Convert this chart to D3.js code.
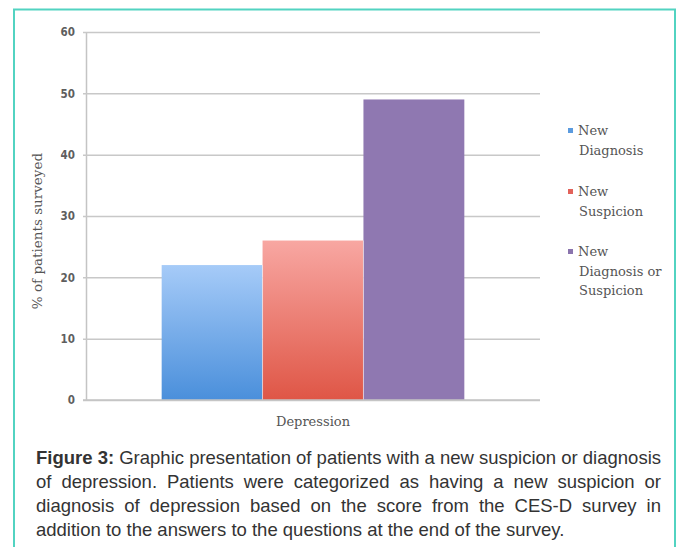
<!DOCTYPE html>
<html>
<head>
<meta charset="utf-8">
<script src="https://cdn.jsdelivr.net/npm/d3@7"></script>
<style>
  html, body { margin: 0; padding: 0; background: #fff; }
  svg { display: block; }
</style>
</head>
<body>
<svg id="chart" width="681" height="547"></svg>
<script>
// Share of surveyed patients with a new depression finding
const categories = ["Depression"];
const seriesNames = ["New Diagnosis", "New Suspicion", "New Diagnosis or Suspicion"];
const seriesValues = [22, 26, 49];
const yTicks = [0, 10, 20, 30, 40, 50, 60];
const legendLines = [["New", "Diagnosis"], ["New", "Suspicion"], ["New", "Diagnosis or", "Suspicion"]];
const captionLines = [
  [{ t: "Figure 3:", b: true }, { t: " Graphic presentation of patients with a new suspicion or diagnosis" }],
  [{ t: "of depression. Patients were categorized as having a new suspicion or" }],
  [{ t: "diagnosis of depression based on the score from the CES-D survey in" }],
  [{ t: "addition to the answers to the questions at the end of the survey." }]
];

const svg = d3.select("#chart");
const serif = "'DejaVu Serif', 'Liberation Serif', serif";

// Frame around the figure
svg.append("rect")
  .attr("x", 14).attr("y", 9.5).attr("width", 661).attr("height", 560)
  .attr("fill", "none").attr("stroke", "#52d3c1").attr("stroke-width", 2);

const plot = { left: 86, right: 540, top: 32, bottom: 400 };

const y = d3.scaleLinear().domain([0, 60]).range([plot.bottom, plot.top]);
const x0 = d3.scaleBand().domain(categories).range([plot.left, plot.right]).paddingInner(0).paddingOuter(0.25);
const x1 = d3.scaleBand().domain(seriesNames).range([0, x0.bandwidth()]).padding(0);

// Gradients for the first two bars
const defs = svg.append("defs");
const grads = [
  { id: "gBlue", top: "#a6cbf8", bottom: "#4a8fdb" },
  { id: "gRed", top: "#f8a7a2", bottom: "#df5646" }
];
grads.forEach(g => {
  const lg = defs.append("linearGradient").attr("id", g.id).attr("x1", 0).attr("y1", 0).attr("x2", 0).attr("y2", 1);
  lg.append("stop").attr("offset", "0%").attr("stop-color", g.top);
  lg.append("stop").attr("offset", "100%").attr("stop-color", g.bottom);
});
const fills = ["url(#gBlue)", "url(#gRed)", "#8f78b1"];
const swatch = ["#5b9bdf", "#e2625a", "#8a74ad"];

// Horizontal gridlines with short ticks
const axis = d3.axisLeft(y).tickValues(yTicks).tickSize(-(plot.right - plot.left)).tickPadding(10).tickSizeOuter(0);
const gAxis = svg.append("g").attr("transform", `translate(${plot.left},0)`).call(axis);
gAxis.select(".domain").attr("stroke", "#c4c4c4").attr("stroke-width", 1.5);
gAxis.selectAll(".tick line").attr("stroke", "#c8c8c8").attr("stroke-width", 1.5).attr("x1", -3);
gAxis.selectAll(".tick text")
  .attr("fill", "#5e5e5e")
  .attr("font-family", "'DejaVu Sans Condensed', 'Liberation Sans Narrow', sans-serif")
  .attr("font-weight", "bold")
  .attr("font-size", 11.5)
  .attr("x", -11);

// Bars
const group = svg.append("g").selectAll("g").data(categories).join("g")
  .attr("transform", d => `translate(${x0(d)},0)`);
group.selectAll("rect")
  .data(seriesValues.map((v, i) => ({ name: seriesNames[i], value: v, i })))
  .join("rect")
  .attr("x", d => x1(d.name))
  .attr("y", d => y(d.value))
  .attr("width", x1.bandwidth())
  .attr("height", d => y(0) - y(d.value))
  .attr("fill", d => fills[d.i]);

// Separators between adjacent bars
group.selectAll("line.sep")
  .data(seriesNames.slice(1))
  .join("line")
  .attr("class", "sep")
  .attr("x1", d => x1(d)).attr("x2", d => x1(d))
  .attr("y1", d => y(seriesValues[seriesNames.indexOf(d) - 1])).attr("y2", y(0))
  .attr("stroke", "#ffffff").attr("stroke-opacity", 0.5).attr("stroke-width", 1);

// Baseline
svg.append("line")
  .attr("x1", plot.left - 3).attr("x2", plot.right)
  .attr("y1", y(0)).attr("y2", y(0))
  .attr("stroke", "#c4c4c4").attr("stroke-width", 1.5);

// Category label
svg.append("text")
  .attr("x", x0("Depression") + x0.bandwidth() / 2)
  .attr("y", 426)
  .attr("text-anchor", "middle")
  .attr("font-family", serif)
  .attr("font-size", 13)
  .attr("fill", "#555")
  .text(categories[0]);

// Y axis title
svg.append("text")
  .attr("transform", "translate(42,231) rotate(-90)")
  .attr("text-anchor", "middle")
  .attr("font-family", serif)
  .attr("font-size", 13.5)
  .attr("fill", "#555")
  .text("% of patients surveyed");

// Legend
const legendTop = [135, 196, 256];
const legend = svg.append("g");
legendLines.forEach((lines, i) => {
  legend.append("rect")
    .attr("x", 568).attr("y", legendTop[i] - 7)
    .attr("width", 5).attr("height", 5)
    .attr("fill", swatch[i]);
  const t = legend.append("text")
    .attr("font-family", serif)
    .attr("font-size", 13)
    .attr("fill", "#555");
  lines.forEach((ln, j) => {
    t.append("tspan").attr("x", j === 0 ? 578 : 579).attr("y", legendTop[i] + j * 19.5).text(ln);
  });
});

// Caption, justified line by line
const capLeft = 36, capRight = 661, capTop = 464, capStep = 24;
const capFont = "'Liberation Sans', Arial, sans-serif";
captionLines.forEach((parts, i) => {
  const t = svg.append("text")
    .attr("x", capLeft).attr("y", capTop + i * capStep)
    .attr("font-family", capFont)
    .attr("font-size", 18.5)
    .attr("fill", "#333");
  parts.forEach(p => {
    t.append("tspan").attr("font-weight", p.b ? "bold" : null).text(p.t);
  });
  if (i < captionLines.length - 1) {
    const w = t.node().getComputedTextLength();
    const gaps = parts.map(p => p.t).join("").split(" ").length - 1;
    const extra = (capRight - capLeft - w) / gaps;
    t.attr("word-spacing", extra);
  }
});
</script>
</body>
</html>
